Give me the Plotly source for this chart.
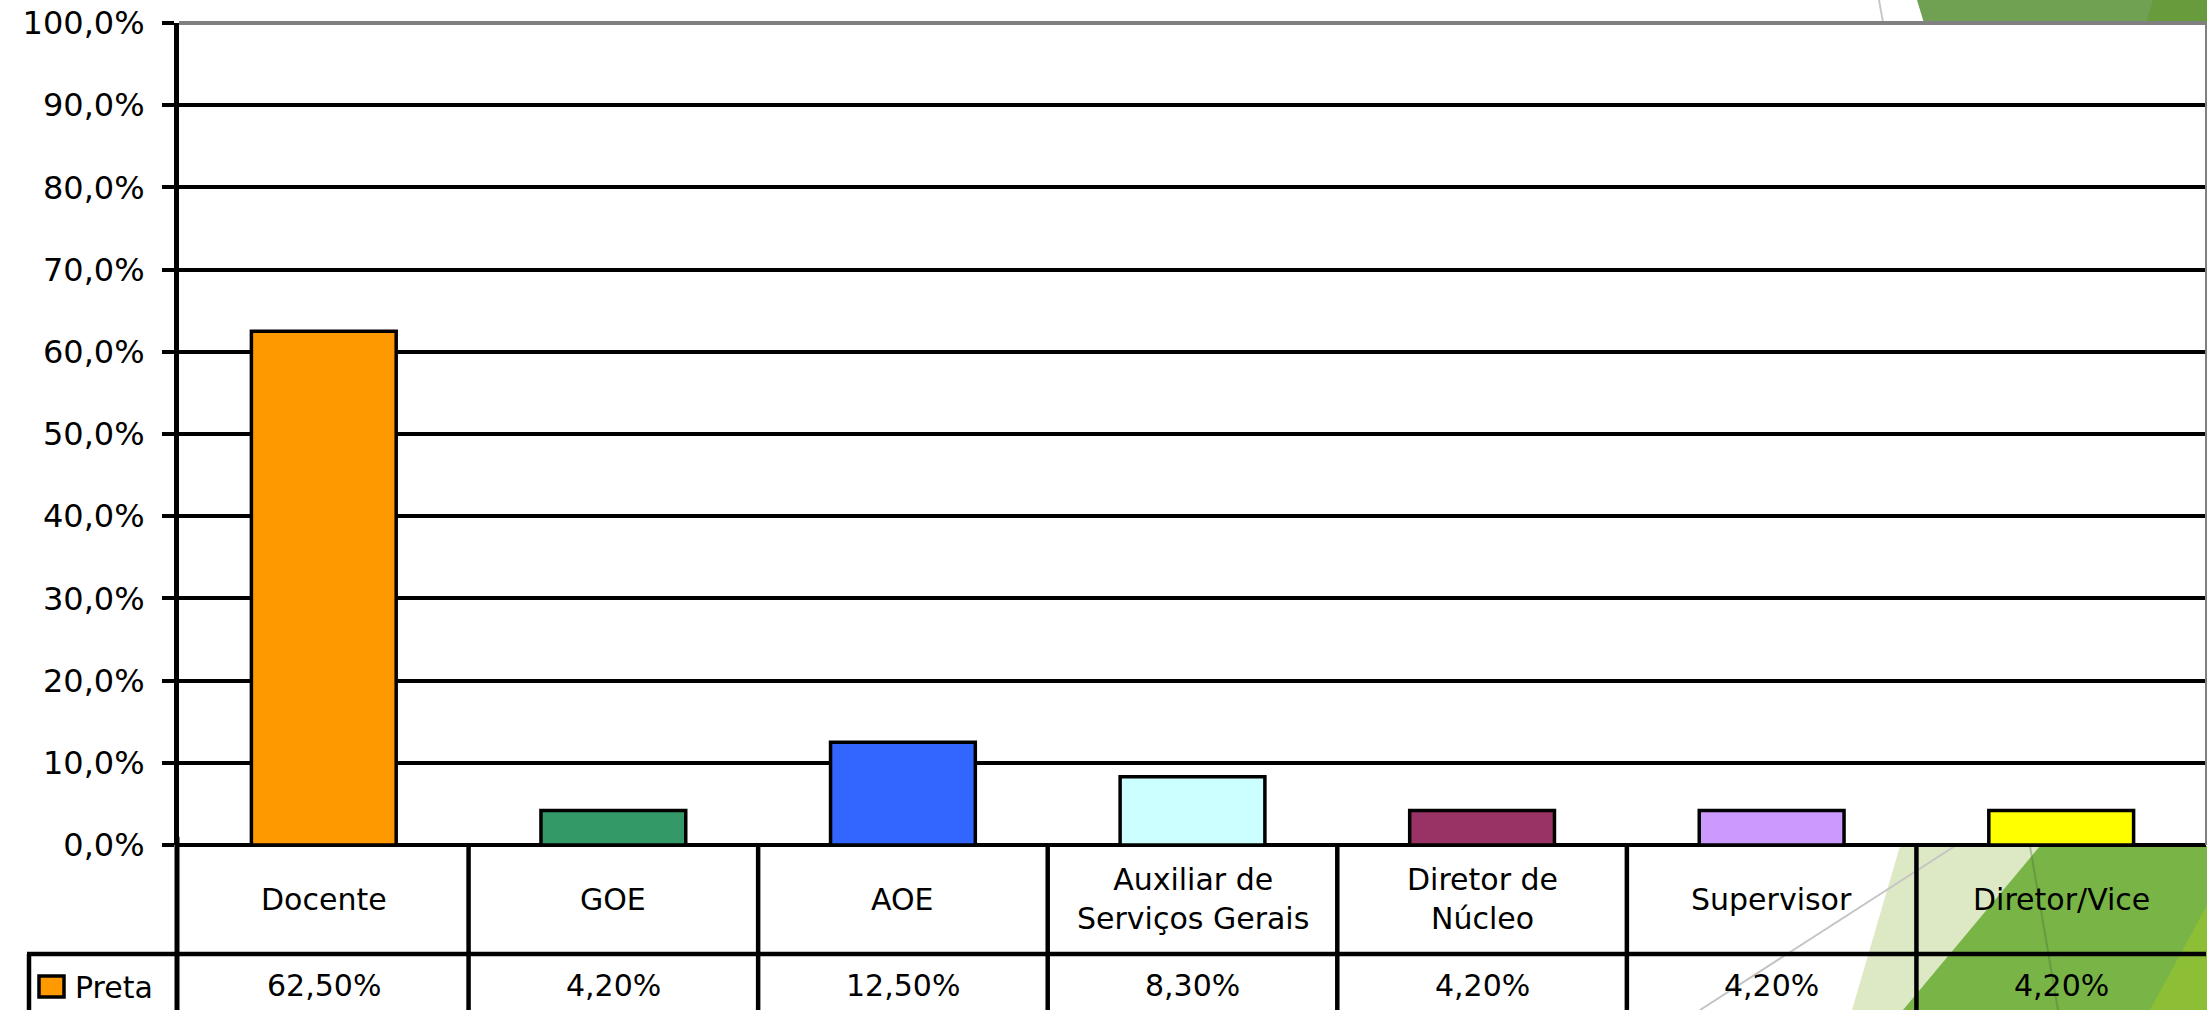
import plotly.graph_objects as go

# ---------------- data ----------------
categories = ["Docente", "GOE", "AOE", "Auxiliar de Serviços Gerais",
              "Diretor de Núcleo", "Supervisor", "Diretor/Vice"]
header_labels = ["Docente", "GOE", "AOE", "Auxiliar de<br>Serviços Gerais",
                 "Diretor de<br>Núcleo", "Supervisor", "Diretor/Vice"]
series_name = "Preta"
values = [62.5, 4.2, 12.5, 8.3, 4.2, 4.2, 4.2]
bar_colors = ["#FF9900", "#339966", "#3366FF", "#CCFFFF", "#993366", "#CC99FF", "#FFFF00"]
y_ticks = [0, 10, 20, 30, 40, 50, 60, 70, 80, 90, 100]
y_tick_labels = [f"{v:.1f}".replace(".", ",") + "%" for v in y_ticks]
value_labels = [f"{v:.2f}".replace(".", ",") + "%" for v in values]

# ---------------- geometry ----------------
W, H = 2207, 1010
ML, MR, MT, MB = 179, 1, 23, 165
PW = W - ML - MR
PH = H - MT - MB
FONT = "DejaVu Sans"
TFS = 30  # table font size


def px(x):  # pixel x -> paper x
    return (x - ML) / PW


def py(y):  # pixel y -> paper y
    return (H - MB - y) / PH


fig = go.Figure()
fig.add_trace(go.Bar(
    x=list(range(len(categories))), y=values, name=series_name,
    width=0.5, marker=dict(color=bar_colors, line=dict(color="black", width=3.5)),
    showlegend=False, hoverinfo="skip",
))

shapes = []


def poly(pts, color):
    d = "M " + " L ".join(f"{px(a):.5f},{py(b):.5f}" for a, b in pts) + " Z"
    shapes.append(dict(type="path", xref="paper", yref="paper", path=d,
                       fillcolor=color, line=dict(width=0), layer="below"))


def pline(x0, y0, x1, y1, color, w):
    shapes.append(dict(type="line", xref="paper", yref="paper",
                       x0=px(x0), y0=py(y0), x1=px(x1), y1=py(y1),
                       line=dict(color=color, width=w), layer="below"))


# background decorations (slide theme)
poly([(1917, 0), (2207, 0), (2207, 23), (1924, 23)], "#70a052")
poly([(2153, 0), (2207, 0), (2207, 23), (2146, 23)], "#679b3b")
pline(1879, 0, 1883, 22, "#c8c8c8", 2)
poly([(1900, 846), (2207, 846), (2207, 1010), (1852, 1010)], "#dde9c5")
poly([(2040, 846), (2207, 846), (2207, 1010), (1903, 1010)], "#78b446")
poly([(2207, 905), (2207, 1010), (2150, 1010)], "#8dbf36")
pline(2030, 846, 2058, 1010, "rgba(70,110,50,0.35)", 2)
pline(1955, 846, 1700, 1010, "#c4c4c4", 2)

# plot borders
shapes.append(dict(type="line", xref="paper", yref="paper", x0=0, x1=1, y0=1, y1=1,
                   line=dict(color="#808080", width=4), layer="above"))
shapes.append(dict(type="line", xref="paper", yref="paper", x0=1, x1=1, y0=0, y1=1,
                   line=dict(color="#808080", width=2), layer="above"))

# data table lines
tbl_mid = py(954)
tbl_bot = py(1030)
shapes.append(dict(type="line", xref="paper", yref="paper", x0=px(177), x1=px(177),
                   y0=0.01, y1=tbl_bot, line=dict(color="black", width=5), layer="above"))
for i in range(1, len(categories)):
    shapes.append(dict(type="line", xref="x", yref="paper", x0=i - 0.5, x1=i - 0.5,
                       y0=0, y1=tbl_bot, line=dict(color="black", width=4.5), layer="above"))
shapes.append(dict(type="line", xref="paper", yref="paper", x0=px(27), x1=1,
                   y0=tbl_mid, y1=tbl_mid, line=dict(color="black", width=4.5), layer="above"))
shapes.append(dict(type="line", xref="paper", yref="paper", x0=px(29), x1=px(29),
                   y0=tbl_mid, y1=tbl_bot, line=dict(color="black", width=4.5), layer="above"))
# legend key
shapes.append(dict(type="rect", xref="paper", yref="paper", x0=px(39), x1=px(64),
                   y0=py(976), y1=py(997), fillcolor=bar_colors[0],
                   line=dict(color="black", width=3.5), layer="above"))

annotations = []
for i, lab in enumerate(header_labels):
    annotations.append(dict(x=i, y=py(899), xref="x", yref="paper", text=lab,
                            showarrow=False, yanchor="middle", xanchor="center",
                            font=dict(family=FONT, size=TFS, color="black")))
for i, lab in enumerate(value_labels):
    annotations.append(dict(x=i, y=py(985), xref="x", yref="paper", text=lab,
                            showarrow=False, yanchor="middle", xanchor="center",
                            font=dict(family=FONT, size=TFS, color="black")))
annotations.append(dict(x=px(73), y=py(987), xref="paper", yref="paper", text=series_name,
                        showarrow=False, yanchor="middle", xanchor="left",
                        font=dict(family=FONT, size=TFS, color="black")))

fig.update_layout(
    width=W, height=H,
    margin=dict(l=ML, r=MR, t=MT, b=MB, pad=0),
    paper_bgcolor="white", plot_bgcolor="white",
    shapes=shapes, annotations=annotations,
    xaxis=dict(range=[-0.5, len(categories) - 0.5], showticklabels=False,
               showgrid=False, zeroline=False, showline=False, fixedrange=True),
    yaxis=dict(range=[0, 100], tickvals=y_ticks, ticktext=y_tick_labels,
               ticks="outside", ticklen=12, tickwidth=4, tickcolor="black",
               showline=True, linecolor="black", linewidth=5,
               showgrid=True, gridcolor="black", gridwidth=4,
               zeroline=True, zerolinecolor="black", zerolinewidth=4,
               ticklabelstandoff=11,
               tickfont=dict(family=FONT, size=32, color="black"), fixedrange=True),
    showlegend=False,
)

fig.write_html("out.html", config={"displayModeBar": False},
               post_script="document.body.style.margin='0px';document.body.style.overflow='hidden';")
